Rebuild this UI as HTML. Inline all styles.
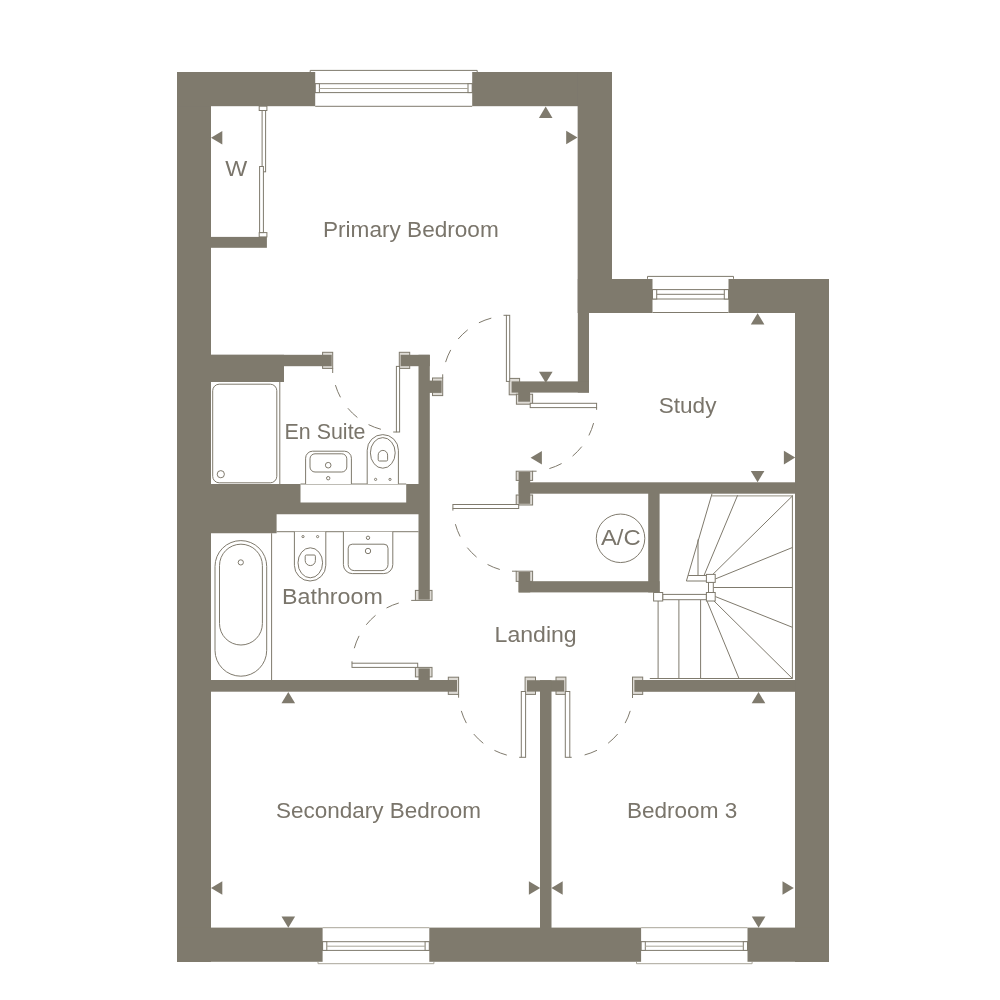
<!DOCTYPE html>
<html lang="en">
<head>
<meta charset="utf-8">
<title>First Floor Plan</title>
<style>
  html, body { margin: 0; padding: 0; background: #ffffff; }
  body { width: 1000px; height: 1000px; overflow: hidden; }
  svg { display: block; }
  .w rect, .w path, .w polygon { fill: #7f7a6d; }
  .l { fill: none; stroke: #7f7a6d; stroke-width: 1; }
  .lw { fill: #ffffff; stroke: #7f7a6d; stroke-width: 1; }
  .lf { fill: #dedbd5; stroke: #7f7a6d; stroke-width: 1; }
  .lt { fill: #ffffff; stroke: #a9a599; stroke-width: 1; }
  .d { fill: none; stroke: #7f7a6d; stroke-width: 1; stroke-dasharray: 0 19.2 13.2 13.2 13.2 13.2 13.2 100; }
  .t polygon { fill: #7f7a6d; }
  #labels { filter: opacity(0.999); }
  text { font-family: "Liberation Sans", sans-serif; fill: #7a756b; font-size: 20px; }
</style>
</head>
<body>
<svg width="1000" height="1000" viewBox="0 0 1000 1000">
<rect width="1000" height="1000" fill="#ffffff"/>

<!-- windows -->
<g id="windows">
<path class="l" style="fill:none" d="M310.20 72.10V70.40H477.20V72.10"/>
<path class="l" style="fill:none" d="M315.20 106.30H472.20"/>
<rect x="315.20" y="83.70" width="157.00" height="8.90" class="lw"/>
<rect x="315.20" y="83.70" width="4.20" height="8.90" class="lw"/>
<rect x="468.00" y="83.70" width="4.20" height="8.90" class="lw"/>
<path class="lt" style="fill:none" d="M319.40 88.50H468.00"/>
<path class="l" style="fill:none" d="M647.50 278.80V276.40H733.50V278.80"/>
<path class="l" style="fill:none" d="M652.50 312.50H728.50"/>
<rect x="652.50" y="289.60" width="76.00" height="9.40" class="lw"/>
<rect x="652.50" y="289.60" width="4.20" height="9.40" class="lw"/>
<rect x="724.30" y="289.60" width="4.20" height="9.40" class="lw"/>
<path class="l" style="fill:none" d="M656.70 294.30H724.30"/>
<path class="lt" style="fill:none" d="M318.00 961.80V963.70H433.90V961.80"/>
<path class="lt" style="fill:none" d="M322.60 927.70H429.30"/>
<rect x="322.60" y="941.70" width="106.70" height="8.70" class="lw"/>
<rect x="322.60" y="941.70" width="4.20" height="8.70" class="lw"/>
<rect x="425.10" y="941.70" width="4.20" height="8.70" class="lw"/>
<path class="lt" style="fill:none" d="M326.80 946.20H425.10"/>
<path class="lt" style="fill:none" d="M636.50 961.80V963.70H752.10V961.80"/>
<path class="lt" style="fill:none" d="M641.10 927.70H747.50"/>
<rect x="641.10" y="941.70" width="106.40" height="8.70" class="lw"/>
<rect x="641.10" y="941.70" width="4.20" height="8.70" class="lw"/>
<rect x="743.30" y="941.70" width="4.20" height="8.70" class="lw"/>
<path class="lt" style="fill:none" d="M645.30 946.20H743.30"/>
</g>
<!-- door frames -->
<g id="frames">
<rect x="322.60" y="352.30" width="10.10" height="16.10" class="lf"/>
<rect x="399.30" y="352.30" width="10.40" height="16.10" class="lf"/>
<rect x="432.50" y="378.00" width="10.20" height="17.60" class="lf"/>
<rect x="509.20" y="378.40" width="10.40" height="16.40" class="lf"/>
<rect x="516.40" y="394.20" width="16.20" height="10.00" class="lf"/>
<rect x="516.20" y="471.20" width="16.40" height="9.20" class="lf"/>
<rect x="516.20" y="495.00" width="16.40" height="10.00" class="lf"/>
<rect x="516.20" y="571.20" width="16.40" height="10.20" class="lf"/>
<rect x="415.40" y="590.40" width="16.60" height="10.00" class="lf"/>
<rect x="415.40" y="667.40" width="16.60" height="9.50" class="lf"/>
<rect x="448.30" y="677.20" width="10.30" height="17.20" class="lf"/>
<rect x="525.10" y="677.10" width="10.40" height="17.30" class="lf"/>
<rect x="556.00" y="677.10" width="9.90" height="17.30" class="lf"/>
<rect x="632.50" y="677.10" width="10.20" height="17.30" class="lf"/>
<path class="l" d="M332.7 368.4V373M442.7 378V374.3M536.6 471.2H532.6M411.2 600.4H415.4M458.6 694.4V697.7M632.5 694.4V698M516.2 571.2H512"/>
</g>
<!-- walls -->
<g class="w" id="walls">
<rect x="177.00" y="72.00" width="34.00" height="890.00"/>
<rect x="177.00" y="72.00" width="138.20" height="34.20"/>
<rect x="472.20" y="72.00" width="139.80" height="34.20"/>
<rect x="577.80" y="72.00" width="34.20" height="241.00"/>
<rect x="577.80" y="72.00" width="11.20" height="320.60"/>
<rect x="577.80" y="279.00" width="74.70" height="34.00"/>
<rect x="728.50" y="279.00" width="100.50" height="34.00"/>
<rect x="795.00" y="279.00" width="34.00" height="683.00"/>
<rect x="177.00" y="927.60" width="145.60" height="34.20"/>
<rect x="429.30" y="927.60" width="211.80" height="34.20"/>
<rect x="747.50" y="927.60" width="81.50" height="34.20"/>
<rect x="211.00" y="236.90" width="55.90" height="10.90"/>
<rect x="211.00" y="354.80" width="120.70" height="11.40"/>
<rect x="211.00" y="354.80" width="73.00" height="27.20"/>
<rect x="400.60" y="354.80" width="29.20" height="11.40"/>
<rect x="418.50" y="354.80" width="11.30" height="244.80"/>
<rect x="428.00" y="380.60" width="13.60" height="12.30"/>
<rect x="511.60" y="381.40" width="77.40" height="11.20"/>
<rect x="518.20" y="390.00" width="11.90" height="11.70"/>
<rect x="518.60" y="482.30" width="276.60" height="11.40"/>
<rect x="518.60" y="472.00" width="11.60" height="31.80"/>
<rect x="648.20" y="493.00" width="11.40" height="99.40"/>
<rect x="518.60" y="581.20" width="141.00" height="11.20"/>
<rect x="518.60" y="572.00" width="11.60" height="20.40"/>
<rect x="211.00" y="680.00" width="246.00" height="11.70"/>
<rect x="418.50" y="668.40" width="11.30" height="12.60"/>
<rect x="527.00" y="680.20" width="37.20" height="11.40"/>
<rect x="540.00" y="680.20" width="11.50" height="247.80"/>
<rect x="634.40" y="680.00" width="160.80" height="11.80"/>
<path d="M211 484H300.5V502.5H406.2V484H420V514.3H276.6V533.2H211Z"/>
</g>
<!-- arrows -->
<g class="t" id="arrows">
<polygon points="545.70,106.60 538.90,117.90 552.50,117.90"/>
<polygon points="577.50,137.50 566.20,130.70 566.20,144.30"/>
<polygon points="211.00,137.70 222.30,130.90 222.30,144.50"/>
<polygon points="545.80,383.00 539.00,371.70 552.60,371.70"/>
<polygon points="530.60,457.70 541.90,450.90 541.90,464.50"/>
<polygon points="757.60,313.20 750.80,324.50 764.40,324.50"/>
<polygon points="795.20,457.60 783.90,450.80 783.90,464.40"/>
<polygon points="757.60,482.20 750.80,470.90 764.40,470.90"/>
<polygon points="288.30,692.00 281.50,703.30 295.10,703.30"/>
<polygon points="211.00,888.00 222.30,881.20 222.30,894.80"/>
<polygon points="288.30,927.80 281.50,916.50 295.10,916.50"/>
<polygon points="540.20,888.00 528.90,881.20 528.90,894.80"/>
<polygon points="551.40,888.00 562.70,881.20 562.70,894.80"/>
<polygon points="793.80,888.00 782.50,881.20 782.50,894.80"/>
<polygon points="758.50,692.00 751.70,703.30 765.30,703.30"/>
<polygon points="758.60,927.80 751.80,916.50 765.40,916.50"/>
</g>
<!-- doors -->
<g id="doors">
<rect x="396.40" y="366.40" width="3.20" height="65.60" class="lw"/>
<rect x="506.40" y="315.30" width="3.30" height="66.10" class="lw"/>
<rect x="530.20" y="403.30" width="66.40" height="4.30" class="lw"/>
<rect x="452.90" y="504.50" width="65.80" height="4.00" class="lw"/>
<rect x="352.00" y="663.20" width="65.70" height="4.20" class="lw"/>
<rect x="521.30" y="691.50" width="4.30" height="65.80" class="lw"/>
<rect x="565.30" y="691.50" width="4.50" height="65.80" class="lw"/>
<path class="l" d="M396.4 432.0H393.2M506.4 315.3H503.5M596.6 407.6V409.8M452.9 508.5V510.6M352 663.2V661.3M521.3 757.3H519.2M569.8 757.3H571.7"/>
<path class="d" d="M332.7 366.2A65 65 0 0 0 397.6 431.5"/>
<path class="d" d="M442.8 381.0A65 65 0 0 1 507.8 316.0"/>
<path class="d" d="M530.5 471.3A65 65 0 0 0 595.8 406.0"/>
<path class="d" d="M518.7 572.1A65 65 0 0 1 453.1 507.1"/>
<path class="d" d="M417.7 600.4A65 65 0 0 0 352.0 665.3"/>
<path class="d" d="M458.6 692.0A65 65 0 0 0 523.4 757.3"/>
<path class="d" d="M633.0 692.0A65 65 0 0 1 567.9 757.1"/>
</g>
<!-- wardrobe -->
<g id="wardrobe">
<rect x="259.20" y="106.20" width="7.70" height="4.30" class="lw"/>
<rect x="259.20" y="232.60" width="7.70" height="4.30" class="lw"/>
<rect x="262.10" y="110.50" width="3.50" height="61.30" class="lw"/>
<rect x="259.60" y="166.50" width="3.80" height="66.10" class="lw"/>
</g>
<!-- en suite fittings -->
<g id="ensuite">
<path class="l" d="M279.8 382V484"/>
<rect class="l" x="212.7" y="384.2" width="64.1" height="98.6" rx="6.5"/>
<circle class="l" cx="220.8" cy="474.2" r="3.6"/>
<path class="l" d="M300.5 484H406.2"/>
<path class="lw" d="M305.6 484V458.2A7 7 0 0 1 312.6 451.2H344.4A7 7 0 0 1 351.4 458.2V484"/>
<rect class="l" x="310" y="453.8" width="36.8" height="18.2" rx="5"/>
<circle class="l" cx="328.2" cy="465.2" r="2.8"/>
<circle class="l" cx="328.2" cy="478.2" r="1.7"/>
<path class="lw" d="M367.2 484V450.2A15.6 15.6 0 0 1 398.4 450.2V484"/>
<ellipse class="l" cx="382.8" cy="452.9" rx="12.4" ry="15.3"/>
<path class="l" d="M378.2 459.8V455.1A4.7 4.7 0 0 1 387.6 455.1V459.8A1.2 1.2 0 0 1 386.4 461H379.4A1.2 1.2 0 0 1 378.2 459.8Z"/>
<circle class="l" cx="375.6" cy="479.4" r="1.1"/><circle class="l" cx="390" cy="479.4" r="1.1"/>
</g>
<!-- bathroom fittings -->
<g id="bathroom">
<path class="l" d="M276.6 531.7H418.6"/>
<path class="l" d="M271.6 533.2V680"/>
<rect class="l" x="215.0" y="540.6" width="51.7" height="135.6" rx="25.85"/>
<rect class="l" x="219.5" y="544.2" width="42.9" height="100.8" rx="21.45"/>
<circle class="l" cx="240.8" cy="562.4" r="2.6"/>
<path class="lw" d="M294.4 531.7V565.3A15.7 15.7 0 0 0 325.8 565.3V531.7"/>
<ellipse class="l" cx="310.3" cy="562.8" rx="12.3" ry="15"/>
<path class="l" d="M305.2 556.2V560.5A5.1 5.1 0 0 0 315.4 560.5V556.2A1.2 1.2 0 0 0 314.2 555H306.4A1.2 1.2 0 0 0 305.2 556.2Z"/>
<circle class="l" cx="303" cy="536.6" r="1.1"/><circle class="l" cx="317.6" cy="536.6" r="1.1"/>
<path class="lw" d="M343.4 531.7V564.6A9 9 0 0 0 352.4 573.6H383.8A9 9 0 0 0 392.8 564.6V531.7"/>
<path class="l" d="M352.2 544.2H384A4 4 0 0 1 388 548.2V564.6A6 6 0 0 1 382 570.6H354.2A6 6 0 0 1 348.2 564.6V548.2A4 4 0 0 1 352.2 544.2Z"/>
<circle class="l" cx="368" cy="551" r="2.7"/>
<circle class="l" cx="368" cy="537.8" r="1.7"/>
</g>
<circle class="l" cx="620.55" cy="538.3" r="24.25"/>
<!-- stairs -->
<g id="stairs">
<path class="lt" style="fill:none;stroke-width:1.3" d="M711.6 495.9H792.4"/>
<path class="l" d="M792.4 495.3V678.5H649.8"/>
<path class="l" d="M712 493.7L686.4 581H706.4M688.2 575.5H706.4M698 539.5V575.5"/>
<path class="l" d="M737.6 495.3L704 575.5"/>
<path class="l" d="M792.4 496L712.8 574.4"/>
<path class="l" d="M792.4 547.5L715.2 579"/>
<path class="l" d="M713.3 587.5H792.4"/>
<path class="l" d="M715.2 596.5L792.4 627.3"/>
<path class="l" d="M714 601L792.4 678.5"/>
<path class="l" d="M707 601L739 678.5"/>
<path class="l" d="M700.6 599.7V678.5M678.9 599.7V678.5M658.1 601V678.5"/>
<rect x="708.50" y="582.40" width="4.80" height="10.10" class="lw"/>
<rect x="662.70" y="594.40" width="43.70" height="5.30" class="lw"/>
<rect x="706.40" y="574.40" width="8.80" height="8.00" class="lw"/>
<rect x="706.40" y="592.50" width="8.80" height="8.50" class="lw"/>
<rect x="653.60" y="592.50" width="9.10" height="8.50" class="lw"/>
</g>
<!-- labels -->
<g id="labels">
<text x="323.0" y="236.8" textLength="175.7" lengthAdjust="spacingAndGlyphs" style="font-size:21.5px">Primary Bedroom</text>
<text x="225.2" y="175.9" textLength="22.0" lengthAdjust="spacingAndGlyphs" style="font-size:21.5px">W</text>
<text x="284.5" y="438.9" textLength="81.0" lengthAdjust="spacingAndGlyphs" style="font-size:21.5px">En Suite</text>
<text x="658.8" y="412.8" textLength="57.6" lengthAdjust="spacingAndGlyphs" style="font-size:21.5px">Study</text>
<text x="600.9" y="544.7" textLength="39.7" lengthAdjust="spacingAndGlyphs" style="font-size:21.5px">A/C</text>
<text x="282.0" y="603.6" textLength="100.8" lengthAdjust="spacingAndGlyphs" style="font-size:21.5px">Bathroom</text>
<text x="494.6" y="641.8" textLength="82.1" lengthAdjust="spacingAndGlyphs" style="font-size:21.5px">Landing</text>
<text x="276.1" y="817.7" textLength="205.0" lengthAdjust="spacingAndGlyphs" style="font-size:21.5px">Secondary Bedroom</text>
<text x="627.0" y="817.9" textLength="110.2" lengthAdjust="spacingAndGlyphs" style="font-size:21.5px">Bedroom 3</text>
</g>
</svg>
</body>
</html>
